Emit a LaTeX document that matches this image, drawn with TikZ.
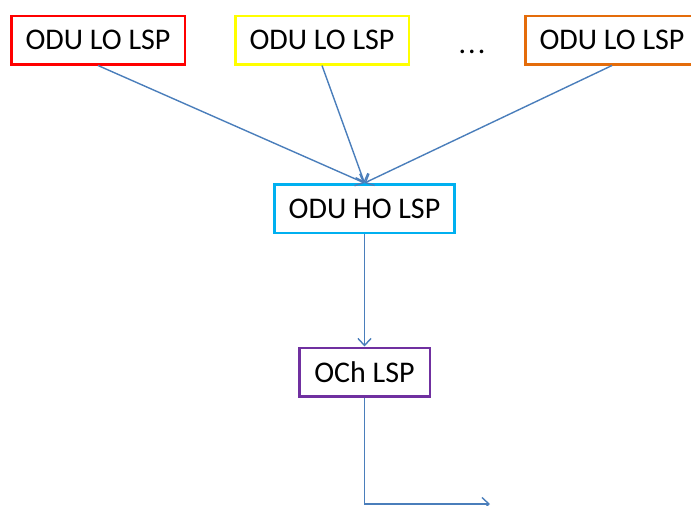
\documentclass[tikz,border=0pt]{standalone}
\usepackage{fontspec}
\setmainfont{Carlito}
\usepackage{xcolor}
\usepackage{tikz}
\usetikzlibrary{arrows.meta}
\definecolor{link}{HTML}{4A7EBB}
\definecolor{lored}{HTML}{FF0000}
\definecolor{loyellow}{HTML}{FFFF00}
\definecolor{loorange}{HTML}{E46C0A}
\definecolor{hocyan}{HTML}{00B0F0}
\definecolor{ochpurple}{HTML}{7030A0}
\tikzset{
  lsp/.style={draw=#1, line width=2.5pt, fill=white, minimum width=173.5pt,
    minimum height=48.5pt, inner sep=0pt,
    font=\fontsize{30}{36}\selectfont},
  link/.style={draw=link, line width=1.4pt, -{Straight Barb[length=7pt,width=13pt]}}
}
\begin{document}
\begin{tikzpicture}[x=1pt,y=-1pt]
  \useasboundingbox (0,0) rectangle (691,506);

  % Lower order LSPs
  \node[lsp=lored] (lo1) at (98,40) {ODU LO LSP};
  \node[lsp=loyellow] (lo2) at (322,40) {ODU LO LSP};
  \node[font=\fontsize{30}{36}\selectfont] (dots) at (472,52) {.\kern2pt.\kern2pt.};
  \node[lsp=loorange] (lo3) at (612,40) {ODU LO LSP};

  % Higher order and optical channel
  \node[lsp=hocyan, minimum width=180pt] (ho) at (364.5,208.5) {ODU HO LSP};
  \node[lsp=ochpurple, minimum width=130.5pt] (och) at (364.5,372) {OCh LSP};

  % Links
  \draw[link] (lo1.south) -- (ho.north);
  \draw[link] (lo2.south) -- (ho.north);
  \draw[link] (lo3.south) -- (ho.north);
  \draw[link] (ho.south) -- (och.north);
  \coordinate (out) at (490,504);
  \draw[link] (och.south) |- (out);
\end{tikzpicture}
\end{document}
